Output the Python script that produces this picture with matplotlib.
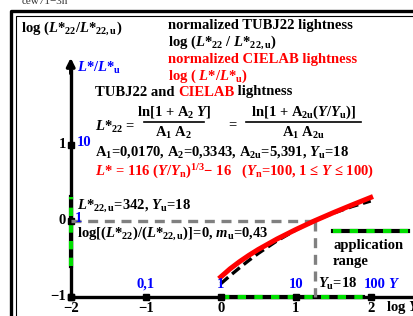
import numpy as np
import matplotlib
matplotlib.use("Agg")
import matplotlib.pyplot as plt
from matplotlib.lines import Line2D

plt.rcParams['font.family'] = ['Liberation Serif', 'DejaVu Serif']
plt.rcParams['font.weight'] = 'bold'
plt.rcParams['mathtext.fontset'] = 'custom'
plt.rcParams['mathtext.rm'] = 'Liberation Serif:bold'
plt.rcParams['mathtext.it'] = 'Liberation Serif:italic:bold'
plt.rcParams['mathtext.bf'] = 'Liberation Serif:bold'

# normalized lightness vs log Y
log_y = [0.0, 0.125, 0.25, 0.375, 0.5, 0.75, 1.0, 1.25, 1.5, 1.75, 2.0]
cielab_norm = [-0.741, -0.633, -0.540, -0.456, -0.379, -0.241, -0.117, -0.002, 0.105, 0.207, 0.306]
tubj_norm = [-0.830, -0.723, -0.621, -0.523, -0.431, -0.265, -0.123, -0.002, 0.099, 0.186, 0.259]

x_ticks = [-2, -1, 0, 1, 2]
x_tick_labels = ['\u22122', '\u22121', '0', '1', '2']
y_ticks = [-1, 0, 1]
y_tick_labels = ['\u22121', '0', '1']
x_blue_labels = ['0,1', '1', '10', '100']
log_yu = 1.255
y_range = (-0.6, 0.31)
x_range = (0, 1.9)

W, H = 413, 316
fig = plt.figure(figsize=(W / 100, H / 100), dpi=100)
ax = fig.add_axes([0, 0, 1, 1])
# pixel mapping: x=0 at px 220.7, 75 px/unit ; y=0 at px 220.7, 76 px/unit
x0, sx, y0, sy = 220.7, 75.0, 220.7, 76.0
ax.set_xlim(-x0 / sx, (W - x0) / sx)
ax.set_ylim((y0 - H) / sy, y0 / sy)
ax.axis('off')

def T(px, py, s, **kw):
    kw.setdefault('fontsize', 10.5)
    kw.setdefault('va', 'center')
    return fig.text(px / W, 1 - py / H, s, **kw)

def L(xs, ys, **kw):
    fig.add_artist(Line2D([p / W for p in xs], [1 - p / H for p in ys], **kw))

renderer = fig.canvas.get_renderer()

def chain(px, py, parts):
    """write coloured pieces one after another on one line"""
    for s, c in parts:
        t = T(px, py, s, color=c)
        px += t.get_window_extent(renderer).width

# frame
L([10.5, 10.5, 420], [320, 10.5, 10.5], color='k', lw=2.4)
L([16, 16, 420], [320, 16, 16], color='k', lw=0.8)
T(22, 1, 'cew71\u22123n', fontsize=8, color='#333333', fontweight='normal')

# axes
ax.plot([-2, 2.7], [-1, -1], color='k', lw=2.4, solid_capstyle='butt')
ax.annotate('', xy=(2.62, -1), xytext=(2.4, -1),
            arrowprops=dict(arrowstyle='-|>', color='k', lw=2.4, mutation_scale=12))
ax.plot([-2, -2], [-1, 2.0], color='k', lw=2.4, solid_capstyle='butt')
ax.annotate('', xy=(-2, 2.18), xytext=(-2, 1.9),
            arrowprops=dict(arrowstyle='-|>', color='k', lw=2.4, mutation_scale=12))

# application range on axes
ax.plot(list(x_range), [-1, -1], color='k', lw=3)
ax.plot(list(x_range), [-1, -1], color='#00e000', lw=3, dashes=(2, 2))
ax.plot([-2, -2], list(y_range), color='k', lw=3)
ax.plot([-2, -2], list(y_range), color='#00e000', lw=3, dashes=(2, 2))

# tick squares
ax.plot(x_ticks, [-1] * len(x_ticks), 's', color='k', ms=4)
ax.plot([-2] * len(y_ticks), y_ticks, 's', color='k', ms=4)

# gray guide lines
ax.plot([-2, log_yu], [0, 0], color='#808080', lw=2.4, dashes=(3, 2))
ax.plot([log_yu, log_yu], [0, -1], color='#808080', lw=2.4, dashes=(3, 2))

# curves
ax.plot(log_y, tubj_norm, color='k', lw=2.4, dashes=(3, 1.5))
ax.plot(log_y, cielab_norm, color='#ff0000', lw=3.6)

# tick labels
for v, s in zip(x_ticks, x_tick_labels):
    T(x0 + sx * v, 309, s, ha='center')
T(386, 308, 'log $Y$', ha='left')
for v, s in zip(y_ticks, y_tick_labels):
    T(66, y0 - sy * v, s, ha='right')
for v, s in zip(x_ticks[1:], x_blue_labels):
    T(x0 + sx * v + (4 if s == '100' else 0), 284, s, ha='center', color='#0000ff')
T(388, 284, '$Y$', color='#0000ff')
T(318, 284, '$Y_{\\rm u}$=18', ha='left')
T(77, 143, '10', color='#0000ff')
T(75, 219, '1', color='#0000ff')

# texts
T(21, 28, 'log ($L$*$_{22}$/$L$*$_{22,\\rm u}$)')
T(77, 68, '$L$*/$L$*$_{\\rm u}$', color='#0000ff')
T(168, 25, 'normalized TUBJ22 lightness')
T(168, 42, 'log ($L$*$_{22}$ / $L$*$_{22,\\rm u}$)')
T(168, 60, 'normalized CIELAB lightness', color='#ff0000')
T(168, 76, 'log ( $L$*/$L$*$_{\\rm u}$)', color='#ff0000')
chain(95, 92, [('TUBJ22 and ', 'k'), ('CIELAB', '#ff0000'), (' lightness', 'k')])

T(95, 127, '$L$*$_{22}$ =')
T(174, 112, 'ln[1 + A$_2$ $Y$]', ha='center')
L([144, 204], [121.5, 121.5], color='k', lw=1.2)
T(174, 133, 'A$_1$ A$_2$', ha='center')
T(232, 125, '=', ha='center')
T(304, 112, 'ln[1 + A$_{2\\rm u}$($Y$/$Y_{\\rm u}$)]', ha='center')
L([246, 361], [121.5, 121.5], color='k', lw=1.2)
T(304, 133, 'A$_1$ A$_{2\\rm u}$', ha='center')
T(95, 152, 'A$_1$=0,0170, A$_2$=0,3343, A$_{2\\rm u}$=5,391, $Y_{\\rm u}$=18')
T(95, 172, '$L$* = 116 ($Y$/$Y_{\\rm n}$)$^{1/3}$\u2212 16   ($Y_{\\rm n}$=100, 1 \u2264 $Y$ \u2264 100)',
  color='#ff0000')
T(77, 206, '$L$*$_{22,\\rm u}$=342, $Y_{\\rm u}$=18')
T(77, 233, 'log[($L$*$_{22}$)/($L$*$_{22,\\rm u}$)]=0, $m_{\\rm u}$=0,43')

# legend for application range
L([333, 408], [231, 231], color='k', lw=3)
L([333, 408], [231, 231], color='#00e000', lw=3, dashes=(2, 2))
T(333, 246, 'application')
T(333, 262, 'range')

fig.savefig('out.png', dpi=100)
